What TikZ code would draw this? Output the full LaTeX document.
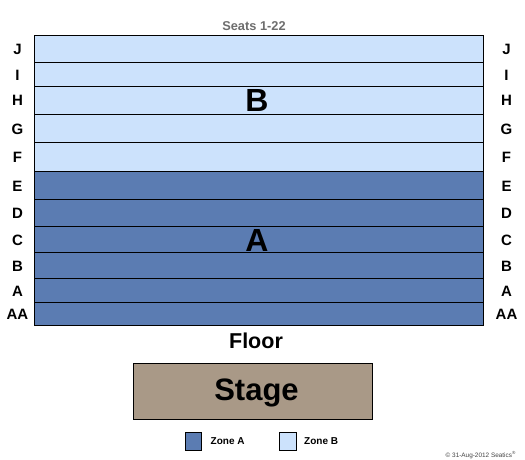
\documentclass[tikz,border=0pt]{standalone}
\usepackage{fontspec}
\setmainfont{Liberation Sans}
\definecolor{zoneA}{RGB}{91,124,178}
\definecolor{zoneB}{RGB}{204,226,252}
\definecolor{stagec}{RGB}{169,153,135}
\definecolor{seatgray}{RGB}{110,110,110}
\definecolor{copygray}{RGB}{70,70,70}
\begin{document}
\begin{tikzpicture}[x=1pt,y=-1pt,
  rowlab/.style={font=\bfseries\fontsize{15}{15}\selectfont, inner sep=0pt, anchor=base},
  zonelab/.style={font=\bfseries\fontsize{32}{32}\selectfont, inner sep=0pt, anchor=base},
  rowbox/.style={draw=black, line width=1pt},
  legbox/.style={draw=black, line width=0.8pt},
  legtext/.style={font=\bfseries\fontsize{10}{10}\selectfont, inner sep=0pt, anchor=base west}]
\useasboundingbox (0,0) rectangle (525,460);
\fill[white] (0,0) rectangle (525,460);
\foreach \n/\t/\b/\c in {J/36/63/zoneB, I/63/86.5/zoneB, H/86.5/114.5/zoneB, G/114.5/142.5/zoneB, F/142.5/171.5/zoneB, E/171.5/199.5/zoneA, D/199.5/226.5/zoneA, C/226.5/252.5/zoneA, B/252.5/278.5/zoneA, A/278.5/302.5/zoneA, AA/302.5/325.5/zoneA} {
  \draw[rowbox, fill=\c] (34.5,\t) rectangle (483.5,\b);
  \node[rowlab] (L\n) at (17.5, {(\t+\b)/2+5.5}) {\n};
  \node[rowlab] (R\n) at (506.5, {(\t+\b)/2+5.5}) {\n};
}
\node[font=\bfseries\fontsize{12.8}{12.8}\selectfont, text=seatgray, inner sep=0pt, anchor=base] (seats) at (254,30.5) {Seats 1-22};
\node[zonelab] (zB) at (257,111.5) {B};
\node[zonelab] (zA) at (257,251) {A};
\node[font=\bfseries\fontsize{21.5}{21.5}\selectfont, inner sep=0pt, anchor=base] (floor) at (256,348) {Floor};
\draw[line width=1pt, fill=stagec] (133.5,363.5) rectangle (372,419.5);
\node[font=\bfseries\fontsize{31}{31}\selectfont, inner sep=0pt, anchor=base] (stage) at (256.5,400) {Stage};
\draw[legbox, fill=zoneA] (185,432.5) rectangle (201.5,450);
\node[legtext] (legA) at (210.5,444.5) {Zone A};
\draw[legbox, fill=zoneB] (279.5,432.5) rectangle (296,450);
\node[legtext] (legB) at (304,444.5) {Zone B};
\node[font=\fontsize{6.4}{6.4}\selectfont, text=copygray, inner sep=0pt, anchor=base east] (copy) at (516,457) {© 31-Aug-2012 Seatics\textsuperscript{®}};
\end{tikzpicture}
\end{document}
